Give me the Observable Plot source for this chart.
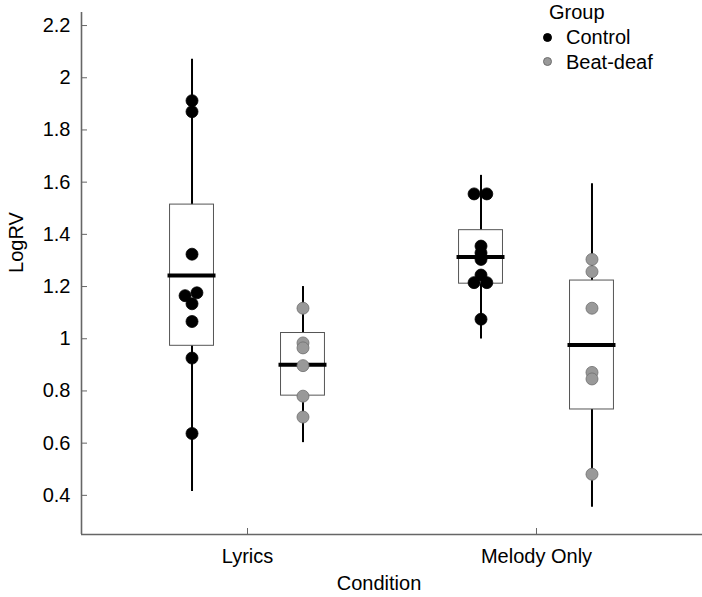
<!DOCTYPE html>
<html><head><meta charset="utf-8">
<script src="https://cdn.jsdelivr.net/npm/d3@7"></script>
<script src="https://cdn.jsdelivr.net/npm/@observablehq/plot@0.6"></script>
<style>
body{margin:0;background:#fff;font-family:"Liberation Sans",Arial,sans-serif;}
#wrap{position:relative;width:702px;height:597px;}
#legend{position:absolute;left:0;top:0;width:702px;height:0;font-size:20px;color:#000;}
#legend .t{position:absolute;line-height:20px;white-space:nowrap;}
#legend .d{position:absolute;width:9px;height:9px;border-radius:50%;box-sizing:border-box;}
</style></head><body><div id="wrap"><div id="legend"></div></div>
<script>
// ---- data ----
const conditions = ["Lyrics", "Melody Only"];
const groups = ["Control", "Beat-deaf"];
const groupFill = ["#000000", "#999999"];
const groupStroke = ["#000000", "#6e6e6e"];
const yTicks = [0.4, 0.6, 0.8, 1, 1.2, 1.4, 1.6, 1.8, 2, 2.2];

// box summaries (condition x group)
const boxCondition = ["Lyrics", "Lyrics", "Melody Only", "Melody Only"];
const boxGroup = ["Control", "Beat-deaf", "Control", "Beat-deaf"];
const whiskerLow = [0.415, 0.602, 0.999, 0.354];
const q1 = [0.973, 0.782, 1.211, 0.729];
const median = [1.242, 0.900, 1.313, 0.976];
const q3 = [1.514, 1.022, 1.416, 1.223];
const whiskerHigh = [2.071, 1.200, 1.626, 1.594];

// individual points (with small horizontal jitter, in condition units)
const lyricsControl = [1.912, 1.870, 1.324, 1.165, 1.176, 1.134, 1.066, 0.926, 0.637];
const lyricsControlJitter = [0, 0, 0, -0.024, 0.017, 0, 0, 0, 0];
const lyricsBeatDeaf = [1.117, 0.984, 0.965, 0.897, 0.780, 0.700];
const melodyControl = [1.555, 1.555, 1.355, 1.329, 1.304, 1.244, 1.215, 1.215, 1.075];
const melodyControlJitter = [-0.024, 0.02, 0, 0, 0, 0, -0.024, 0.02, 0];
const melodyBeatDeaf = [1.304, 1.257, 1.117, 0.871, 0.846, 0.481];

// ---- layout constants ----
const GROUP_OFFSET = 0.192, BOX_HALF = 0.076, MED_HALF = 0.083;
const X_DOMAIN = [-0.5744, 1.5744], Y_DOMAIN = [0.25, 2.25];
const AXIS = "#666666";

const xOf = (c, g) => conditions.indexOf(c) + (groups.indexOf(g) === 0 ? -GROUP_OFFSET : GROUP_OFFSET);
const boxes = boxCondition.map((c, i) => ({condition: c, group: boxGroup[i], lo: whiskerLow[i], q1: q1[i], med: median[i], q3: q3[i], hi: whiskerHigh[i]}));
const pts = [];
function addPoints(c, g, vals, jit) { vals.forEach((v, i) => pts.push({condition: c, group: g, value: v, jitter: jit ? jit[i] : 0})); }
addPoints("Lyrics", "Control", lyricsControl, lyricsControlJitter);
addPoints("Lyrics", "Beat-deaf", lyricsBeatDeaf);
addPoints("Melody Only", "Control", melodyControl, melodyControlJitter);
addPoints("Melody Only", "Beat-deaf", melodyBeatDeaf);

const chart = Plot.plot({
  width: 702, height: 597,
  marginLeft: 81, marginRight: 0, marginTop: 12, marginBottom: 63,
  style: {fontFamily: "'Liberation Sans', Arial, sans-serif", fontSize: "20px", background: "transparent", color: "#000"},
  x: {domain: X_DOMAIN},
  y: {domain: Y_DOMAIN},
  marks: [
    Plot.ruleX(boxes, {x: d => xOf(d.condition, d.group), y1: "lo", y2: "hi", stroke: "#000", strokeWidth: 2}),
    Plot.rect(boxes, {x1: d => xOf(d.condition, d.group) - BOX_HALF, x2: d => xOf(d.condition, d.group) + BOX_HALF, y1: "q1", y2: "q3", fill: "#fff", stroke: "#555", strokeWidth: 1}),
    Plot.ruleY(boxes, {x1: d => xOf(d.condition, d.group) - MED_HALF, x2: d => xOf(d.condition, d.group) + MED_HALF, y: "med", stroke: "#000", strokeWidth: 4}),
    Plot.dot(pts, {x: d => xOf(d.condition, d.group) + d.jitter, y: "value", r: 6,
      fill: d => groupFill[groups.indexOf(d.group)], stroke: d => groupStroke[groups.indexOf(d.group)], strokeWidth: 0.8}),
    Plot.ruleY([Y_DOMAIN[0]], {stroke: AXIS, strokeWidth: 1.6}),
    Plot.ruleX([X_DOMAIN[0]], {stroke: AXIS, strokeWidth: 1.6}),
    Plot.axisY({ticks: yTicks, tickFormat: d => String(d), tickSize: -6, tickPadding: 17, label: null, stroke: AXIS, fill: "#000"}),
    Plot.axisX({ticks: [0, 1], tickFormat: i => conditions[i], tickSize: -6, tickPadding: 20, label: null, stroke: AXIS, fill: "#000"}),
    Plot.text(["LogRV"], {frameAnchor: "left", textAnchor: "middle", lineAnchor: "middle", dx: -65, dy: -31, rotate: -90, fill: "#000"}),
    Plot.text(["Condition"], {frameAnchor: "bottom", textAnchor: "middle", lineAnchor: "middle", dx: -13, dy: 49, fill: "#000"})
  ]
});
const wrap = document.getElementById("wrap");
wrap.insertBefore(chart, wrap.firstChild);

// legend
const legend = document.getElementById("legend");
const title = document.createElement("div");
title.className = "t"; title.textContent = "Group";
title.style.left = "549px"; title.style.top = "2px";
legend.appendChild(title);
groups.forEach((g, i) => {
  const cy = 37 + i * 24.5;
  const d = document.createElement("div");
  d.className = "d";
  d.style.left = (547 - 4.5) + "px"; d.style.top = (cy - 4.5) + "px";
  d.style.background = groupFill[i];
  d.style.border = "0.8px solid " + groupStroke[i];
  legend.appendChild(d);
  const t = document.createElement("div");
  t.className = "t"; t.textContent = g;
  t.style.left = "566px"; t.style.top = (cy - 9.8) + "px";
  legend.appendChild(t);
});
</script></body></html>
